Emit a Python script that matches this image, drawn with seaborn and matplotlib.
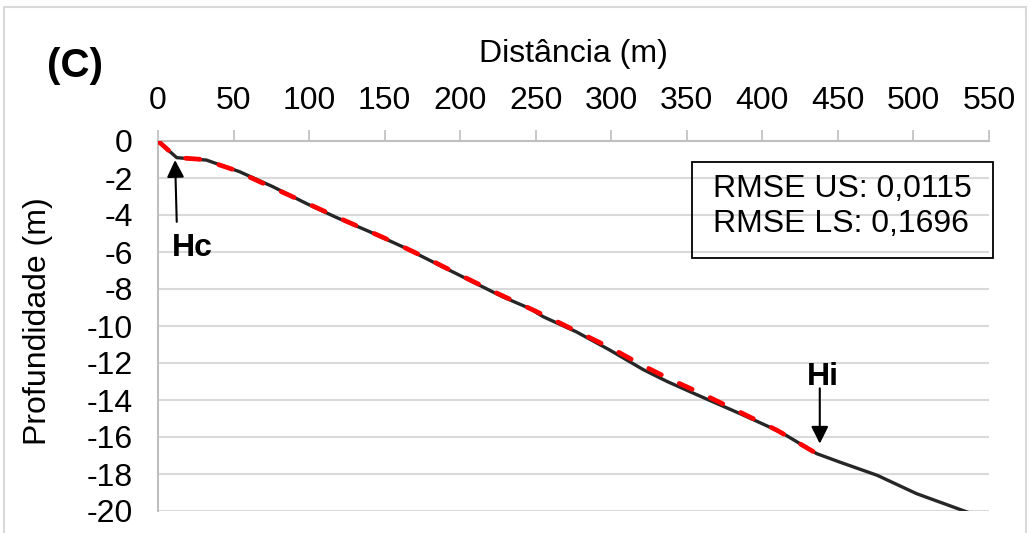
import matplotlib
matplotlib.use("Agg")
import matplotlib.pyplot as plt
from matplotlib.patches import Rectangle
import seaborn as sns

# Measured bottom profile along the transect
distance_m = [0, 12.4, 32, 54, 76, 98, 118, 140, 162, 184, 206, 228, 246, 255,
              277, 299, 321, 337, 359, 385, 412, 436, 451, 476, 502, 537]
depth_m = [0, -0.90, -1.03, -1.66, -2.47, -3.37, -4.13, -4.90, -5.72, -6.62,
           -7.52, -8.42, -9.05, -9.50, -10.32, -11.30, -12.35, -13.00, -13.80,
           -14.73, -15.73, -16.90, -17.35, -18.07, -19.06, -20.10]

# Fitted profile (upper slope 0–Hc, lower slope Hc–Hi)
fit_distance_m = [0, 12.4, 30, 50, 72, 100, 125, 150, 175, 200, 225, 250, 275,
                  300, 320, 340, 360, 385, 410, 436]
fit_depth_m = [0, -0.90, -1.00, -1.55, -2.38, -3.42, -4.35, -5.25, -6.22,
               -7.25, -8.25, -9.20, -10.20, -11.20, -12.10, -12.92, -13.66,
               -14.65, -15.65, -16.90]

x_ticks = [0, 50, 100, 150, 200, 250, 300, 350, 400, 450, 500, 550]
y_ticks = [0, -2, -4, -6, -8, -10, -12, -14, -16, -18, -20]

rmse_lines = ["RMSE US: 0,0115", "RMSE LS: 0,1696"]

sns.set_theme(style="white")
plt.rcParams["font.family"] = ["Liberation Sans", "DejaVu Sans"]
plt.rcParams["axes.unicode_minus"] = False
plt.rcParams["text.color"] = "black"
plt.rcParams["axes.labelcolor"] = "black"

W, H = 1030, 533
fig = plt.figure(figsize=(W / 100, H / 100), dpi=100)
ax = fig.add_axes([158 / W, 1 - 511 / H, (989 - 158) / W, (511 - 141) / H])

grid_col = "#d9d9d9"
axis_col = "#bfbfbf"
fs = 23

sns.lineplot(x=distance_m, y=depth_m, ax=ax, color="#262626", lw=2.4,
             sort=False, zorder=3)
sns.lineplot(x=fit_distance_m, y=fit_depth_m, ax=ax, color="#ff0000", lw=3.4,
             sort=False, zorder=4, linestyle=(0, (3.0, 4.2)),
             dash_capstyle="round")

ax.set_xlim(0, 550)
ax.set_ylim(-20, 0)
ax.set_xticks(x_ticks)
ax.set_yticks(y_ticks)
ax.xaxis.tick_top()
ax.xaxis.set_label_position("top")
ax.set_xlabel("Distância (m)", fontsize=fs, labelpad=17)
ax.set_ylabel("Profundidade (m)", fontsize=fs)
ax.yaxis.set_label_coords(-0.126, 0.512)
ax.tick_params(axis="both", labelsize=fs, labelcolor="black", length=8,
               width=1.2, direction="out", color=axis_col)
ax.tick_params(axis="x", pad=10)
ax.tick_params(axis="y", pad=10)
ax.yaxis.grid(True, color=grid_col, lw=1.5)
ax.xaxis.grid(False)
for side in ["right", "bottom"]:
    ax.spines[side].set_visible(False)
for side in ["top", "left"]:
    ax.spines[side].set_color(axis_col)
    ax.spines[side].set_linewidth(1.5)
ax.set_axisbelow(True)

# Break-point markers: arrows and bold labels
arrow = dict(arrowstyle="-|>", color="black", lw=1.5, mutation_scale=26,
             shrinkA=0, shrinkB=0)
ax.annotate("", xy=(11.3, -1.03), xytext=(12.4, -4.37), arrowprops=arrow)
ax.text(23.0, -5.8, "Hc", ha="center", va="center", fontsize=fs,
        fontweight="bold")
ax.annotate("", xy=(438, -16.36), xytext=(438, -13.37), arrowprops=arrow)
ax.text(440, -12.75, "Hi", ha="center", va="center", fontsize=fs,
        fontweight="bold")

# RMSE box
fig.patches.append(Rectangle((692 / W, 1 - 258 / H), (993 - 692) / W, (258 - 162) / H,
                             transform=fig.transFigure, fill=False,
                             edgecolor="black", lw=1.3, zorder=10))
fig.text(713 / W, 1 - 189 / H, rmse_lines[0], fontsize=fs, va="center", ha="left")
fig.text(713 / W, 1 - 224 / H, rmse_lines[1], fontsize=fs, va="center", ha="left")

# Panel letter
fig.text(75 / W, 1 - 66 / H, "(C)", fontsize=29, fontweight="bold",
         ha="center", va="center")

# Chart-area border
fig.patches.append(Rectangle((4 / W, -0.05), (1026 - 4) / W, 1 - 7 / H + 0.05,
                             transform=fig.transFigure, fill=False,
                             edgecolor=grid_col, lw=1.5, zorder=0))

fig.savefig("out.png", dpi=100)
